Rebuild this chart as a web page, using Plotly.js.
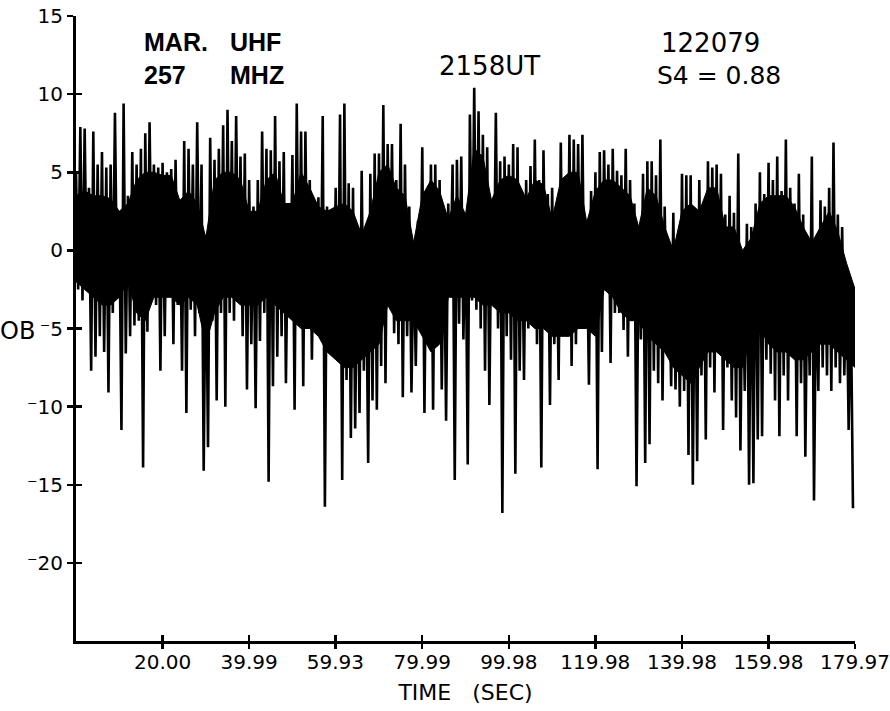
<!DOCTYPE html>
<html>
<head>
<meta charset="utf-8">
<script src="https://cdn.plot.ly/plotly-3.0.1.min.js"></script>
<style>
  html, body { margin: 0; padding: 0; background: #fff; }
  #chart { width: 890px; height: 711px; }
</style>
</head>
<body>
<div id="chart"></div>
<script>
// Signal amplitude (dB), read per second of the record: the upper excursion
// and the lower excursion within each one-second slot (t = 0 ... 179 s).
const upperDb = [
  5.0, 7.9, 7.8, 4.0, 7.6, 5.5, 6.3, 5.3, 5.5, 8.8,
  2.5, 9.4, 3.5, 6.3, 5.5, 6.5, 7.5, 8.2, 5.5, 5.3,
  5.6, 5.0, 5.2, 5.8, 3.2, 7.0, 6.5, 5.5, 8.2, 5.5,
  1.0, 7.2, 5.8, 6.5, 8.0, 9.0, 7.0, 8.6, 6.0, 6.2,
  4.5, 2.8, 4.5, 7.6, 6.5, 6.4, 8.6, 5.7, 6.3, 2.8,
  6.1, 9.4, 7.6, 7.6, 4.5, 3.0, 3.4, 8.6, 2.8, 2.6,
  4.0, 8.7, 9.4, 4.3, 4.0, 1.3, 5.1, 0.4, 4.9, 6.2,
  6.2, 9.3, 6.8, 6.8, 4.5, 8.1, 5.5, 2.8, 0.2, 1.9,
  6.6, 3.8, 5.5, 5.5, 4.5, 1.9, 3.0, 5.5, 5.8, 6.0,
  2.3, 8.7, 10.4, 8.9, 7.4, 6.6, 3.2, 8.8, 5.7, 6.0,
  5.5, 6.8, 6.6, 3.2, 4.5, 5.4, 7.1, 4.5, 6.4, 3.6,
  4.0, 1.5, 6.9, 3.8, 7.4, 7.1, 6.8, 7.4, 1.5, 3.8,
  5.0, 6.3, 6.4, 5.5, 6.5, 5.1, 4.8, 6.5, 4.5, 3.0,
  1.3, 4.9, 5.7, 5.7, 4.8, 7.1, 2.8, -1.5, 2.4, 0.4,
  4.9, 4.8, 4.8, 1.3, 4.5, 2.8, 5.7, 5.3, 5.5, 4.9,
  2.3, 3.5, 2.4, 6.2, -0.4, 1.7, 1.5, 3.0, 5.0, 3.6,
  5.6, 4.5, 6.0, 3.8, 7.1, 4.0, 3.0, 4.9, 2.3, -0.2,
  6.0, -1.5, 3.2, 2.8, 4.0, 6.9, 2.3, 1.5, -1.3, -3.0
];
const lowerDb = [
  -2.5, -3.2, -2.6, -7.7, -6.8, -5.5, -6.5, -9.1, -4.0, -3.0,
  -11.5, -6.6, -5.5, -4.8, -4.5, -13.9, -5.2, -3.0, -3.5, -7.7,
  -5.5, -3.0, -6.0, -3.5, -7.7, -10.4, -3.8, -5.5, -4.0, -14.1,
  -12.6, -4.5, -9.6, -4.0, -10.0, -4.0, -4.5, -3.0, -5.5, -8.9,
  -6.0, -10.1, -5.8, -4.0, -14.8, -8.7, -6.8, -5.5, -8.5, -4.0,
  -10.2, -4.5, -8.7, -5.0, -7.0, -4.9, -5.3, -16.4, -6.4, -5.0,
  -6.8, -14.7, -8.3, -12.0, -11.4, -10.4, -7.7, -13.6, -9.6, -10.2,
  -7.4, -8.5, -3.0, -5.3, -6.0, -9.4, -5.5, -9.1, -7.4, -5.0,
  -10.4, -6.0, -10.2, -6.0, -8.9, -10.9, -2.5, -14.7, -4.7, -5.7,
  -13.7, -3.2, -3.8, -5.0, -7.7, -9.9, -3.5, -5.0, -16.8, -5.5,
  -7.0, -14.3, -7.7, -8.3, -5.0, -4.5, -6.0, -13.9, -4.0, -9.9,
  -6.0, -8.3, -5.5, -5.5, -7.4, -6.0, -4.0, -5.0, -8.6, -5.0,
  -14.0, -6.5, -1.9, -7.2, -4.0, -4.0, -5.1, -6.8, -4.5, -15.1,
  -5.7, -13.6, -12.4, -7.7, -8.5, -9.6, -6.0, -8.7, -8.9, -10.0,
  -9.0, -13.1, -15.0, -13.5, -8.0, -12.1, -7.5, -9.1, -6.5, -11.5,
  -7.5, -9.6, -10.7, -12.8, -9.0, -15.0, -14.9, -12.1, -11.9, -7.0,
  -7.9, -9.6, -11.9, -8.0, -9.6, -6.5, -11.9, -8.5, -13.2, -8.0,
  -16.0, -9.0, -7.5, -8.0, -9.0, -7.5, -8.5, -8.0, -11.5, -16.5
];

// Edges of the solid black core of the trace, read every 2 s (t = 0 ... 180 s)
const coreTopDb = [
  3.5, 3.8, 3.5, 3.5, 3.3, 2.5, 3.0, 4.5, 5.0, 5.0,
  4.8, 4.8, 3.2, 3.8, 3.0, 0.8, 4.5, 5.0, 5.0, 4.5,
  2.5, 2.5, 4.5, 5.0, 3.0, 3.0, 5.0, 4.0, 2.8, 2.5,
  2.8, 3.0, 2.5, 1.0, 2.5, 5.0, 5.5, 4.0, 3.5, 0.5,
  3.5, 4.5, 3.8, 2.0, 3.5, 2.3, 6.5, 6.0, 3.2, 4.5,
  4.8, 4.5, 3.3, 4.5, 4.2, 2.0, 4.5, 5.0, 5.0, 1.8,
  3.8, 4.5, 4.5, 4.0, 3.5, 1.5, 4.0, 3.5, 1.5, 0.0,
  2.5, 3.0, 2.5, 4.0, 4.0, 1.5, 1.5, 0.0, 0.8, 3.0,
  3.5, 3.5, 3.5, 2.8, 1.5, 0.5, 1.5, 2.5, 1.2, -0.8,
  -2.5
];
const coreBotDb = [
  -2.0, -2.5, -3.0, -3.5, -3.5, -3.0, -2.0, -4.0, -4.5, -3.0,
  -3.0, -3.0, -3.5, -3.0, -3.5, -6.0, -4.0, -3.0, -3.0, -3.5,
  -3.5, -3.5, -3.0, -3.5, -4.0, -4.5, -5.0, -5.0, -5.5, -6.5,
  -7.0, -7.5, -7.5, -7.0, -6.5, -6.0, -3.5, -4.5, -4.5, -4.5,
  -5.5, -6.5, -6.0, -3.0, -3.0, -3.0, -3.0, -3.5, -3.5, -4.0,
  -4.0, -4.5, -4.5, -5.0, -5.0, -5.5, -5.5, -5.5, -5.0, -5.0,
  -5.5, -2.5, -3.0, -4.0, -4.5, -4.5, -5.5, -6.0, -6.5, -7.5,
  -8.0, -8.5, -7.5, -6.5, -6.5, -7.0, -7.5, -7.5, -5.5, -5.0,
  -6.0, -6.5, -6.5, -7.0, -7.0, -6.5, -6.0, -6.0, -6.5, -7.0,
  -7.5
];

const xTickVals  = [20.00, 39.99, 59.93, 79.99, 99.98, 119.98, 139.98, 159.98, 179.97];
const xTickText  = ['20.00', '39.99', '59.93', '79.99', '99.98', '119.98', '139.98', '159.98', '179.97'];
const yTickVals  = [15, 10, 5, 0, -5, -10, -15, -20];
const yTickText  = ['15', '10', '5', '0', '\u207B5', '\u207B10', '\u207B15', '\u207B20'];

// interleave the two excursions of each second into one trace
const tx = [], ty = [];
for (let i = 0; i < upperDb.length; i++) {
  tx.push(i);       ty.push(upperDb[i]);
  tx.push(i + 0.5); ty.push(lowerDb[i]);
}
const coreT = coreTopDb.map((_, i) => i * 2);

const FONT = 'DejaVu Sans, Liberation Sans, sans-serif';
const BOLD = 'Liberation Sans, Arial, sans-serif';

const traces = [
  { x: coreT, y: coreBotDb, type: 'scatter', mode: 'lines',
    line: { color: '#000', width: 1 }, hoverinfo: 'skip', showlegend: false },
  { x: coreT, y: coreTopDb, type: 'scatter', mode: 'lines', fill: 'tonexty',
    fillcolor: '#000', line: { color: '#000', width: 1 }, hoverinfo: 'skip', showlegend: false },
  { x: tx, y: ty, type: 'scatter', mode: 'lines',
    line: { color: '#000', width: 2.6 }, hoverinfo: 'skip', showlegend: false },
  { x: [], y: [], xaxis: 'x2', yaxis: 'y2', type: 'scatter', mode: 'lines', showlegend: false }
];

function label(x, y, text, size, family, anchor, weight) {
  return { xref: 'paper', yref: 'paper', x: x, y: y, xanchor: anchor || 'left', yanchor: 'middle',
           text: text, showarrow: false,
           font: { family: family, size: size, color: '#000', weight: weight || 'normal' } };
}
// paper coords: x = (px - 76) / 779, y = (641 - py) / 625
const px = p => (p - 76) / 779;
const py = p => (641 - p) / 625;

const layout = {
  width: 890, height: 711,
  margin: { l: 76, r: 35, t: 16, b: 70 },
  paper_bgcolor: '#fff', plot_bgcolor: '#fff',
  showlegend: false,
  font: { family: FONT, color: '#000', size: 20 },
  xaxis: {
    range: [0, 179.97], showgrid: false, zeroline: false,
    showline: true, linecolor: '#000', linewidth: 3,
    ticks: 'outside', ticklen: 5, tickwidth: 2.5, tickcolor: '#000',
    tickvals: xTickVals, ticktext: xTickText, ticklabeloverflow: 'allow',
    ticklabelstandoff: -4,
    tickfont: { family: FONT, size: 20, color: '#000' },
    title: { text: 'TIME\u00a0\u00a0\u00a0(SEC)', font: { family: FONT, size: 22, color: '#000' }, standoff: 12 }
  },
  yaxis: {
    range: [-25, 15], showgrid: false, zeroline: false,
    showline: true, linecolor: '#000', linewidth: 3,
    ticks: 'outside', ticklen: 6, tickwidth: 2.5, tickcolor: '#000',
    tickvals: yTickVals, ticktext: yTickText,
    tickfont: { family: FONT, size: 20, color: '#000' }
  },
  xaxis2: {
    overlaying: 'x', range: [0, 179.97], showgrid: false, zeroline: false,
    showline: false, ticks: 'inside', ticklen: 6, tickwidth: 2.5, tickcolor: '#000',
    tickvals: xTickVals, showticklabels: false, side: 'bottom'
  },
  yaxis2: {
    overlaying: 'y', range: [-25, 15], showgrid: false, zeroline: false,
    showline: false, ticks: 'inside', ticklen: 6, tickwidth: 2.5, tickcolor: '#000',
    tickvals: yTickVals, showticklabels: false, side: 'left'
  },
  annotations: [
    label(px(142), py(42), 'MAR.', 25, BOLD, 'left', 'bold'),
    label(px(228), py(42), 'UHF', 25, BOLD, 'left', 'bold'),
    label(px(142), py(75), '257', 25, BOLD, 'left', 'bold'),
    label(px(228), py(75), 'MHZ', 25, BOLD, 'left', 'bold'),
    label(px(490), py(66), '2158UT', 26, FONT, 'center'),
    label(px(659), py(43), '122079', 26, FONT, 'left'),
    label(px(655), py(75), 'S4 = 0.88', 25, FONT, 'left'),
    label(px(37), py(331), 'OB', 24, FONT, 'right')
  ]
};

Plotly.newPlot('chart', traces, layout, { staticPlot: true, displayModeBar: false });
</script>
</body>
</html>
